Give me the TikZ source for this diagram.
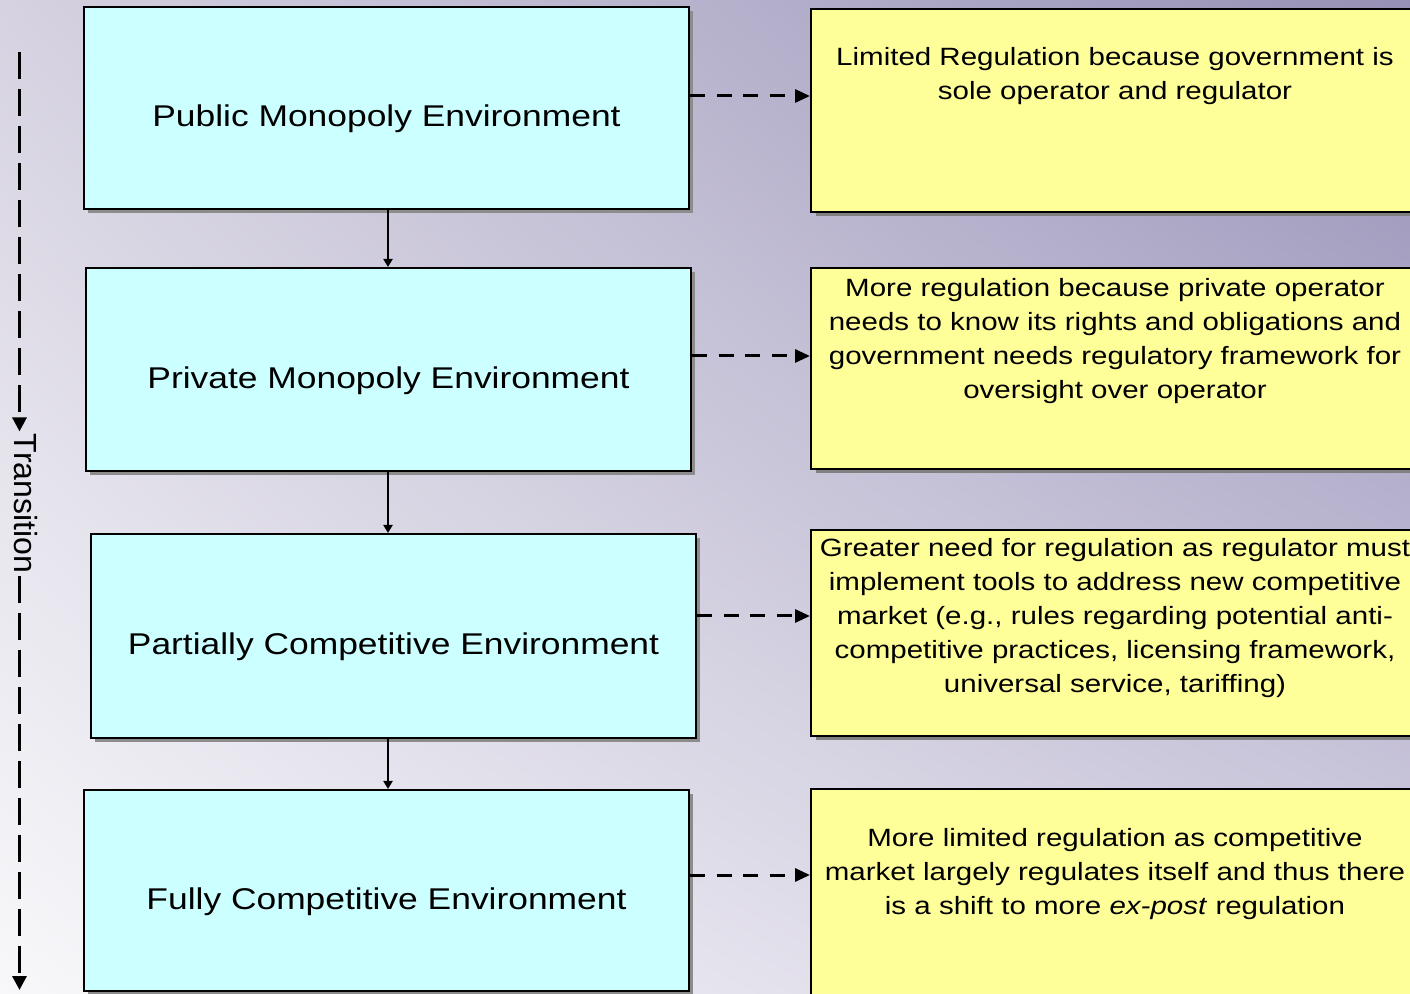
\documentclass[tikz,border=0pt]{standalone}
\usepackage{fontspec}
\setmainfont[FakeStretch=1.18]{Liberation Sans}
\newfontfamily\transfont{Liberation Sans}
\usetikzlibrary{arrows.meta,positioning,calc,shadows,shadings}
\definecolor{EnvCyan}{RGB}{204,255,255}
\definecolor{RegYellow}{RGB}{255,255,153}
\definecolor{BgLight}{RGB}{248,248,250}
\definecolor{BgMid}{RGB}{214,210,225}
\definecolor{BgLow}{RGB}{212,208,226}
\definecolor{BgDark}{RGB}{150,144,182}
\tikzset{
  envbox/.style  ={rectangle, draw=black, line width=1pt, fill=EnvCyan,
                   minimum width=302.5pt, minimum height=101pt, inner sep=0pt,
                   general shadow={fill=black!45, shadow xshift=2.2pt, shadow yshift=-2.2pt}},
  regbox/.style  ={rectangle, draw=black, line width=1pt, fill=RegYellow,
                   minimum width=304pt, minimum height=101.5pt, inner sep=0pt,
                   general shadow={fill=black!50, shadow xshift=2.5pt, shadow yshift=-2pt}},
  envtext/.style ={font=\fontsize{15}{18}\selectfont, inner sep=0pt, anchor=base},
  regtext/.style ={font=\fontsize{12.5}{17}\selectfont, align=center, inner sep=0pt, anchor=north},
  arr/.style     ={-{Triangle[length=4pt,width=4.5pt]}, line width=1pt},
  darr/.style    ={-{Triangle[length=7.5pt,width=6.5pt]}, line width=1.5pt, dash pattern=on 7.5pt off 5.8pt},
  tarr/.style    ={-{Triangle[length=7pt,width=7pt]}, line width=1.6pt, dash pattern=on 13.5pt off 5pt},
}
\begin{document}
\begin{tikzpicture}[x=0.5pt,y=-0.5pt]
  \clip (0,0) rectangle (1410,994);
  \shade[upper left=BgMid, upper right=BgDark, lower left=BgLight, lower right=BgLow]
    (0,0) rectangle (1410,994);
  % environments
  \node[envbox] (env1) at (386.5,108) {};
  \node[envbox, minimum height=101.5pt] (env2) at (388.5,369.5) {};
  \node[envbox, minimum height=102pt] (env3) at (393.5,636) {};
  \node[envbox, minimum height=100.5pt] (env4) at (386.5,890.5) {};
  \node[envtext] (env1t) at ([yshift=-9.4pt]env1.center) {Public Monopoly Environment};
  \node[envtext] (env2t) at ([yshift=-9.4pt]env2.center) {Private Monopoly Environment};
  \node[envtext] (env3t) at ([yshift=-9.4pt]env3.center) {Partially Competitive Environment};
  \node[envtext] (env4t) at ([yshift=-9.4pt]env4.center) {Fully Competitive Environment};
  % regulation
  \node[regbox] (reg1) at (1115,110.5) {};
  \node[regbox, minimum height=100.5pt] (reg2) at (1115,368.5) {};
  \node[regbox, minimum height=103pt] (reg3) at (1115,633) {};
  \node[regbox, minimum height=102.5pt] (reg4) at (1115,892) {};
  \node[regtext] (reg1t) at ([yshift=-19.4pt]reg1.north)
    {Limited Regulation because government is\\sole operator and regulator};
  \node[regtext] (reg2t) at ([yshift=-5.4pt]reg2.north)
    {More regulation because private operator\\needs to know its rights and obligations and\\government needs regulatory framework for\\oversight over operator};
  \node[regtext] (reg3t) at ([yshift=-4.4pt]reg3.north)
    {Greater need for regulation as regulator must\\implement tools to address new competitive\\market (e.g., rules regarding potential anti-\\competitive practices, licensing framework,\\universal service, tariffing)};
  \node[regtext] (reg4t) at ([yshift=-19.5pt]reg4.north)
    {More limited regulation as competitive\\market largely regulates itself and thus there\\is a shift to more \textit{ex-post} regulation};
  % connectors
  \coordinate (spine) at (388,0);
  \foreach \a/\b in {env1/env2,env2/env3,env3/env4}{\draw[arr] (\a.south -| spine) -- (\b.north -| spine);}
  \foreach \i/\s in {1/12,2/13.5,3/20,4/15.5}{
    \draw[darr] ($(env\i.east)+(0,-\s)$) -- ($(env\i.east -| reg\i.west)+(0,-\s)$);}
  % transition
  \coordinate (ttop) at (19.5,52);
  \coordinate (tbot) at (19.5,990);
  \node[rotate=-90, font=\transfont\fontsize{16}{19}\selectfont, inner sep=1pt, anchor=mid] (trans) at (19.5,503.5) {Transition};
  \draw[tarr] (ttop) -- (trans.mid west);
  \draw[tarr] (trans.mid east) -- (tbot);
\end{tikzpicture}
\end{document}
